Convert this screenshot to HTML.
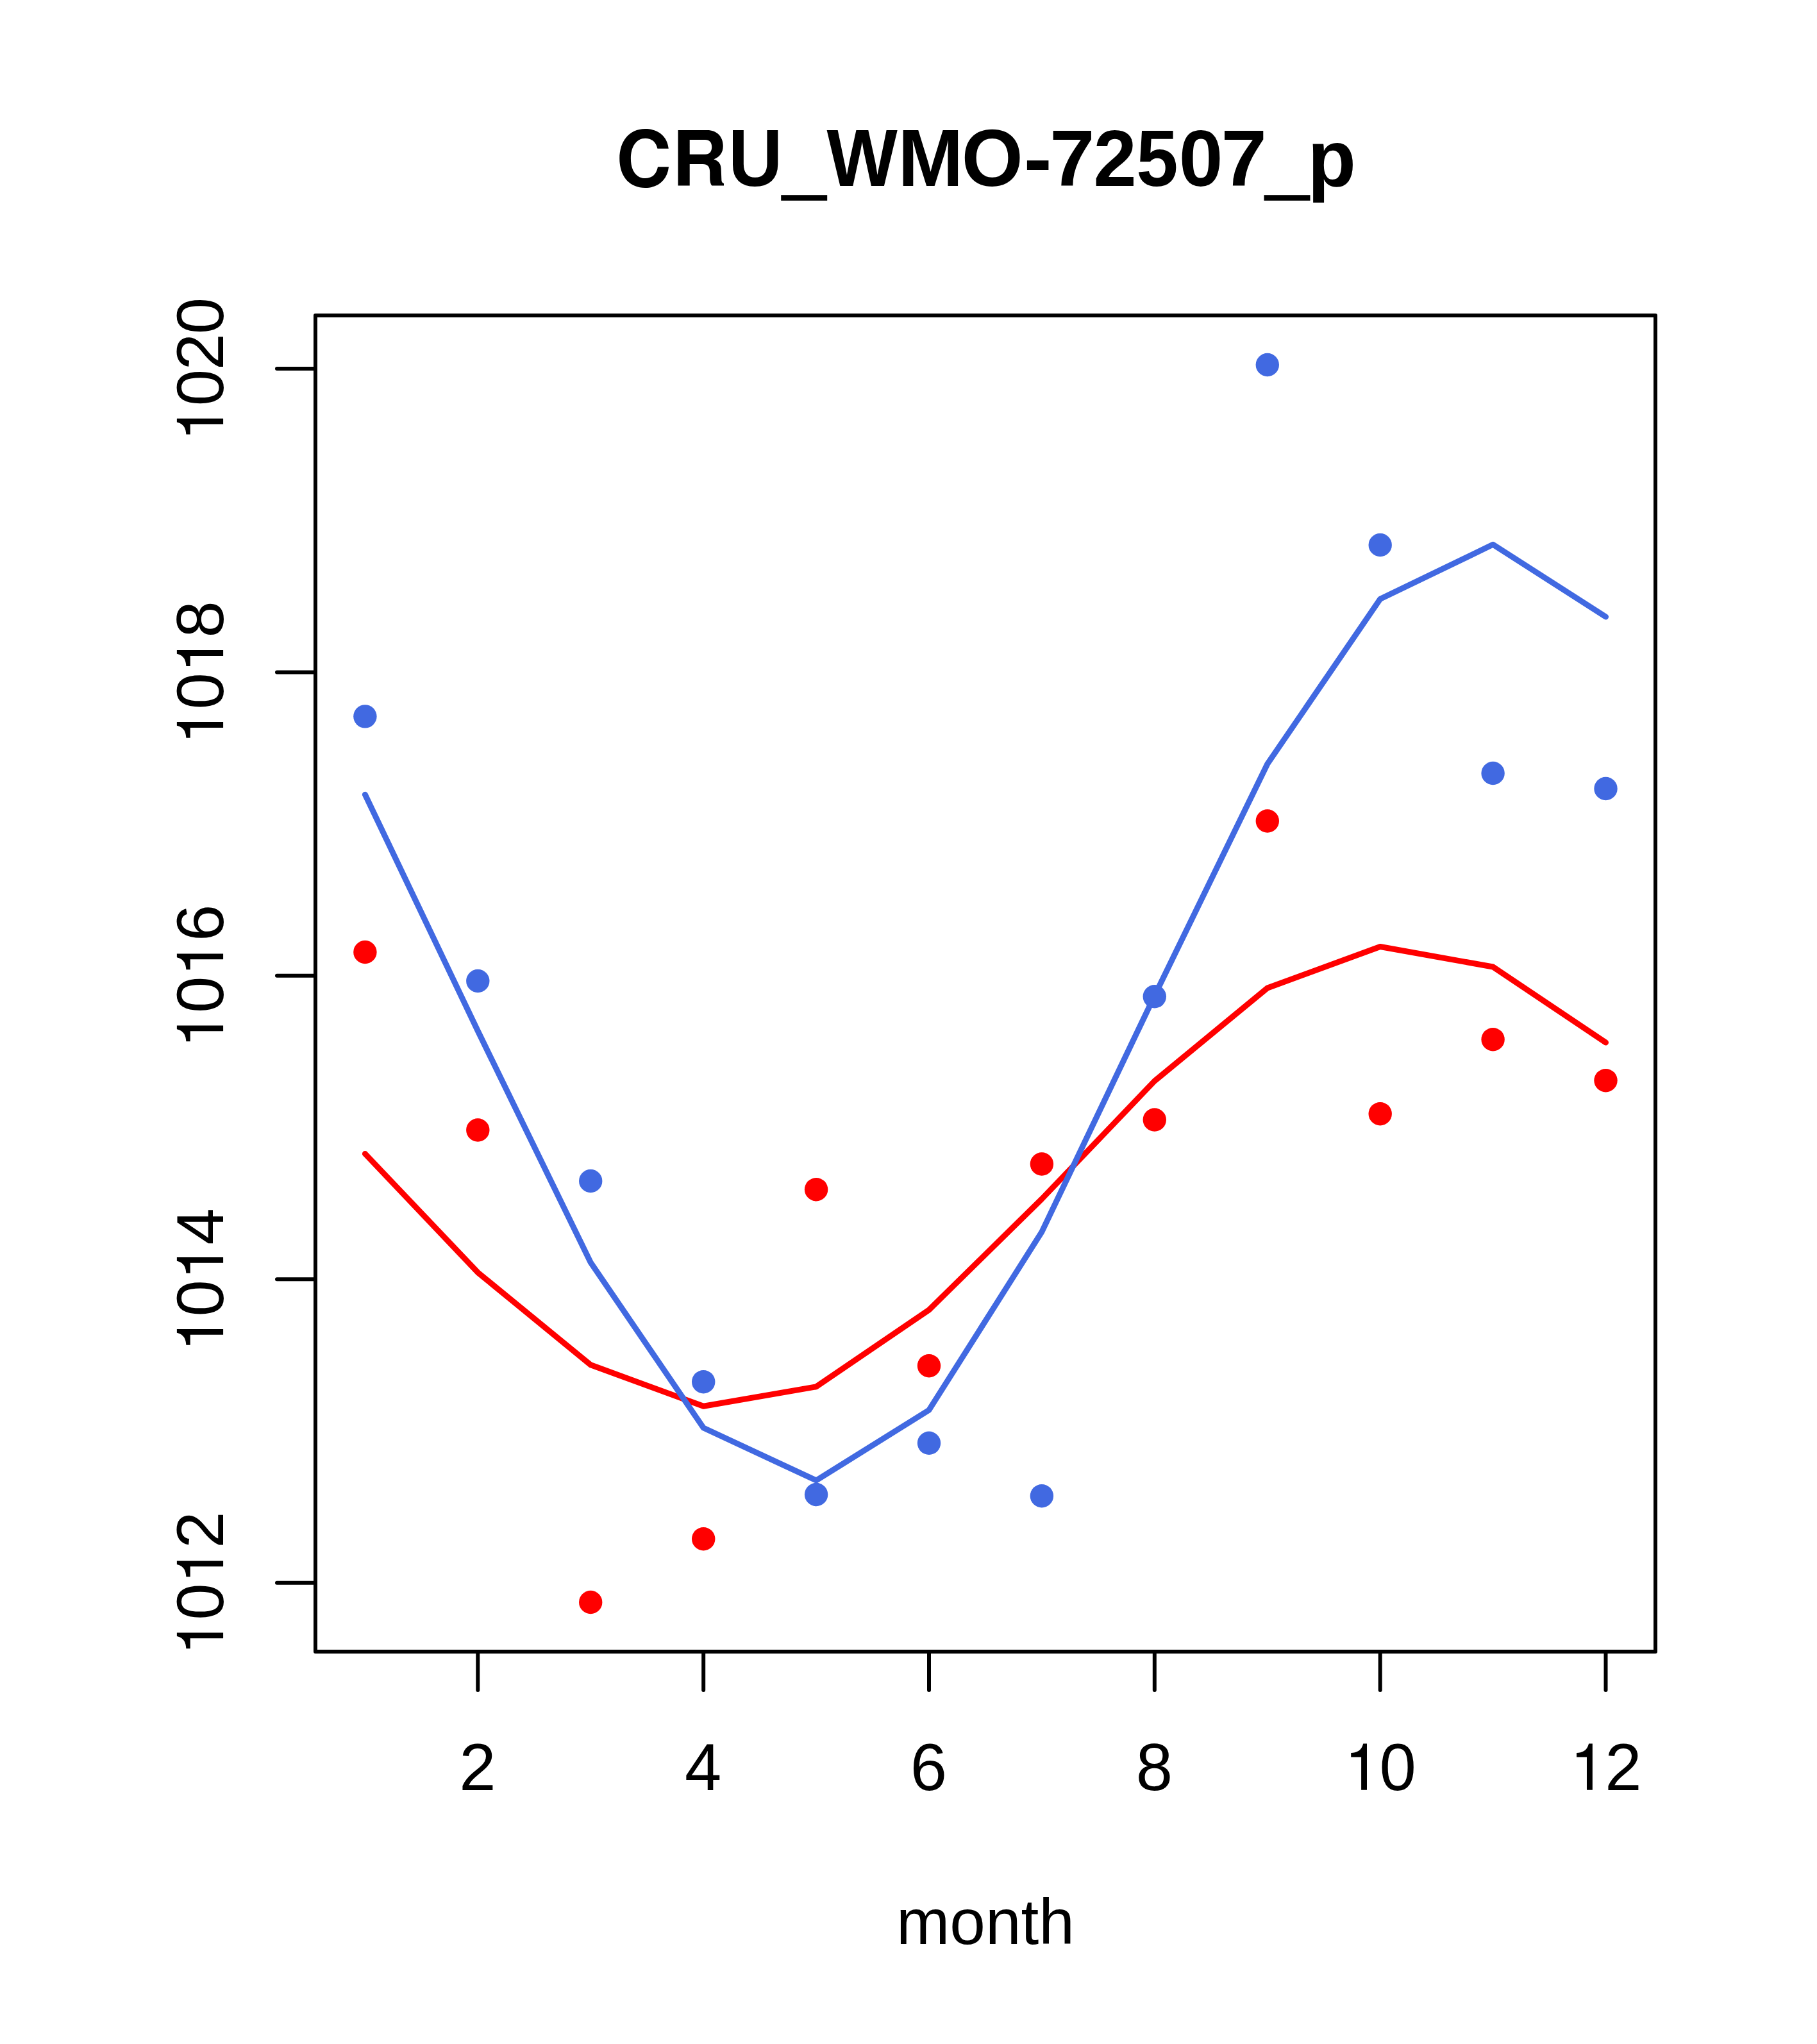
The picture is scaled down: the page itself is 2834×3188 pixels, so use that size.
<!DOCTYPE html>
<html><head><meta charset="utf-8"><style>
html,body{margin:0;padding:0;background:#fff;}
svg{display:block;}
.ax{font-family:"Liberation Sans",sans-serif;font-size:103px;fill:#000;}
.lab{font-family:"Liberation Sans",sans-serif;font-size:100px;fill:#000;}
.main{font-family:"Liberation Sans",sans-serif;font-size:124px;font-weight:bold;fill:#000;}
</style></head><body>
<svg width="2834" height="3188" viewBox="0 0 2834 3188">
<defs><path id="one" d="M0.351,0L0.264,0L0.264,-0.504L0.108,-0.504L0.108,-0.566C0.19,-0.572 0.265,-0.59 0.295,-0.708L0.351,-0.708Z" fill="#000"/></defs>
<rect width="2834" height="3188" fill="#fff"/>
<polyline points="569.4,1799.5 745.3,1984.7 921.2,2128.7 1097.2,2193.3 1273.1,2162.8 1449.0,2043.0 1624.9,1870.0 1800.8,1686.0 1976.8,1541.0 2152.7,1476.5 2328.6,1508.0 2504.5,1626.0" fill="none" stroke="#FF0000" stroke-width="9" stroke-linejoin="round" stroke-linecap="round"/>
<polyline points="569.4,1239.2 745.3,1608.0 921.2,1969.0 1097.2,2227.0 1273.1,2309.0 1449.0,2199.2 1624.9,1921.4 1800.8,1553.0 1976.8,1191.5 2152.7,934.3 2328.6,849.3 2504.5,962.0" fill="none" stroke="#4169E1" stroke-width="9" stroke-linejoin="round" stroke-linecap="round"/>
<circle cx="569.4" cy="1117.4" r="18.2" fill="#4169E1"/>
<circle cx="745.3" cy="1530.0" r="18.2" fill="#4169E1"/>
<circle cx="921.2" cy="1842.0" r="18.2" fill="#4169E1"/>
<circle cx="1097.2" cy="2155.2" r="18.2" fill="#4169E1"/>
<circle cx="1273.1" cy="2331.0" r="18.2" fill="#4169E1"/>
<circle cx="1449.0" cy="2250.8" r="18.2" fill="#4169E1"/>
<circle cx="1624.9" cy="2333.2" r="18.2" fill="#4169E1"/>
<circle cx="1800.8" cy="1554.3" r="18.2" fill="#4169E1"/>
<circle cx="1976.8" cy="569.0" r="18.2" fill="#4169E1"/>
<circle cx="2152.7" cy="850.0" r="18.2" fill="#4169E1"/>
<circle cx="2328.6" cy="1206.0" r="18.2" fill="#4169E1"/>
<circle cx="2504.5" cy="1230.0" r="18.2" fill="#4169E1"/>
<circle cx="569.4" cy="1485.0" r="18.2" fill="#FF0000"/>
<circle cx="745.3" cy="1762.5" r="18.2" fill="#FF0000"/>
<circle cx="921.2" cy="2499.0" r="18.2" fill="#FF0000"/>
<circle cx="1097.2" cy="2400.2" r="18.2" fill="#FF0000"/>
<circle cx="1273.1" cy="1855.2" r="18.2" fill="#FF0000"/>
<circle cx="1449.0" cy="2130.2" r="18.2" fill="#FF0000"/>
<circle cx="1624.9" cy="1815.5" r="18.2" fill="#FF0000"/>
<circle cx="1800.8" cy="1746.5" r="18.2" fill="#FF0000"/>
<circle cx="1976.8" cy="1280.5" r="18.2" fill="#FF0000"/>
<circle cx="2152.7" cy="1737.2" r="18.2" fill="#FF0000"/>
<circle cx="2328.6" cy="1621.2" r="18.2" fill="#FF0000"/>
<circle cx="2504.5" cy="1685.2" r="18.2" fill="#FF0000"/>
<rect x="492" y="492" width="2090" height="2084" fill="none" stroke="#000" stroke-width="6" stroke-linejoin="round"/>
<path d="M492,2468.7H432 M492,1995.3H432 M492,1521.8H432 M492,1048.4H432 M492,575.0H432 M745.3,2576V2636 M1097.2,2576V2636 M1449.0,2576V2636 M1800.8,2576V2636 M2152.7,2576V2636 M2504.5,2576V2636" stroke="#000" stroke-width="6" stroke-linecap="round" fill="none"/>
<text x="744.82" y="2791.80" text-anchor="middle" class="ax">2</text>
<text x="1096.66" y="2791.80" text-anchor="middle" class="ax">4</text>
<text x="1448.50" y="2791.80" text-anchor="middle" class="ax">6</text>
<text x="1800.34" y="2791.80" text-anchor="middle" class="ax">8</text>
<use href="#one" transform="translate(2096.19,2791.80) scale(102)"/>
<text x="2180.17" y="2791.80" text-anchor="middle" class="ax">0</text>
<use href="#one" transform="translate(2448.03,2791.80) scale(102)"/>
<text x="2532.01" y="2791.80" text-anchor="middle" class="ax">2</text>
<g transform="translate(348.1,2470.2) rotate(-90)"><use href="#one" transform="translate(-111.98,0.00) scale(102)"/><text x="-27.99" y="0.00" text-anchor="middle" class="ax">0</text><use href="#one" transform="translate(0.00,0.00) scale(102)"/><text x="83.98" y="0.00" text-anchor="middle" class="ax">2</text></g>
<g transform="translate(348.1,1996.8) rotate(-90)"><use href="#one" transform="translate(-111.98,0.00) scale(102)"/><text x="-27.99" y="0.00" text-anchor="middle" class="ax">0</text><use href="#one" transform="translate(0.00,0.00) scale(102)"/><text x="83.98" y="0.00" text-anchor="middle" class="ax">4</text></g>
<g transform="translate(348.1,1523.3) rotate(-90)"><use href="#one" transform="translate(-111.98,0.00) scale(102)"/><text x="-27.99" y="0.00" text-anchor="middle" class="ax">0</text><use href="#one" transform="translate(0.00,0.00) scale(102)"/><text x="83.98" y="0.00" text-anchor="middle" class="ax">6</text></g>
<g transform="translate(348.1,1049.9) rotate(-90)"><use href="#one" transform="translate(-111.98,0.00) scale(102)"/><text x="-27.99" y="0.00" text-anchor="middle" class="ax">0</text><use href="#one" transform="translate(0.00,0.00) scale(102)"/><text x="83.98" y="0.00" text-anchor="middle" class="ax">8</text></g>
<g transform="translate(348.1,576.5) rotate(-90)"><use href="#one" transform="translate(-111.98,0.00) scale(102)"/><text x="-27.99" y="0.00" text-anchor="middle" class="ax">0</text><text x="27.99" y="0.00" text-anchor="middle" class="ax">2</text><text x="83.98" y="0.00" text-anchor="middle" class="ax">0</text></g>
<text x="1537" y="3031.9" text-anchor="middle" class="lab">month</text>
<text transform="translate(1135.90,289.8) scale(0.9427,1.016)" x="0" y="0" class="main">U</text>
<text transform="translate(1289.50,289.8) scale(0.9427,1.016)" x="0" y="0" class="main">W</text>
<text transform="translate(1400.62,289.8) scale(0.9851,1.016)" x="0" y="0" class="main">M</text>
<text transform="translate(1499.82,289.8) scale(0.9953,1.016)" x="0" y="0" class="main">O</text>
<text transform="translate(1596.68,289.8) scale(1.0645,1.0)" x="0" y="0" class="main">-</text>
<text transform="translate(1637.21,289.8) scale(1.0186,1.0)" x="0" y="0" class="main">7</text>
<text transform="translate(1705.40,289.8) scale(0.9750,1.0)" x="0" y="0" class="main">2</text>
<text transform="translate(1772.21,289.8) scale(0.9475,1.0)" x="0" y="0" class="main">5</text>
<text transform="translate(1838.72,289.8) scale(0.9966,1.0)" x="0" y="0" class="main">0</text>
<text transform="translate(1904.62,289.8) scale(1.0356,1.0)" x="0" y="0" class="main">7</text>
<text transform="translate(2039.53,289.8) scale(0.9968,1.0)" x="0" y="0" class="main">p</text>
<path transform="translate(1040,190) scale(0.060540)" fill-rule="evenodd" fill="#000" d="M290,1645L290,215L1040,215C1290,215 1450,380 1450,620C1450,800 1360,910 1210,965C1350,1010 1400,1100 1400,1250L1410,1500C1412,1560 1440,1575 1470,1590L1470,1645L1160,1645C1125,1600 1110,1530 1110,1450L1110,1300C1110,1150 1050,1090 930,1090L590,1090L590,1645ZM590,462L990,462C1100,462 1160,530 1160,650C1160,770 1100,840 990,840L590,840Z"/>
<path transform="translate(955,190) scale(0.055036)" fill="#000" d="M1595,760C1560,400 1290,200 930,200C470,200 205,560 205,1040C205,1530 470,1870 930,1870C1310,1870 1560,1640 1600,1275L1290,1275C1255,1470 1140,1600 935,1600C680,1600 525,1380 525,1040C525,700 690,470 935,470C1120,470 1240,580 1280,760Z"/>
<rect x="1218.2" y="304.2" width="72" height="8.7" fill="#000"/>
<rect x="1971.5" y="304.2" width="72" height="8.7" fill="#000"/>
</svg>
</body></html>
